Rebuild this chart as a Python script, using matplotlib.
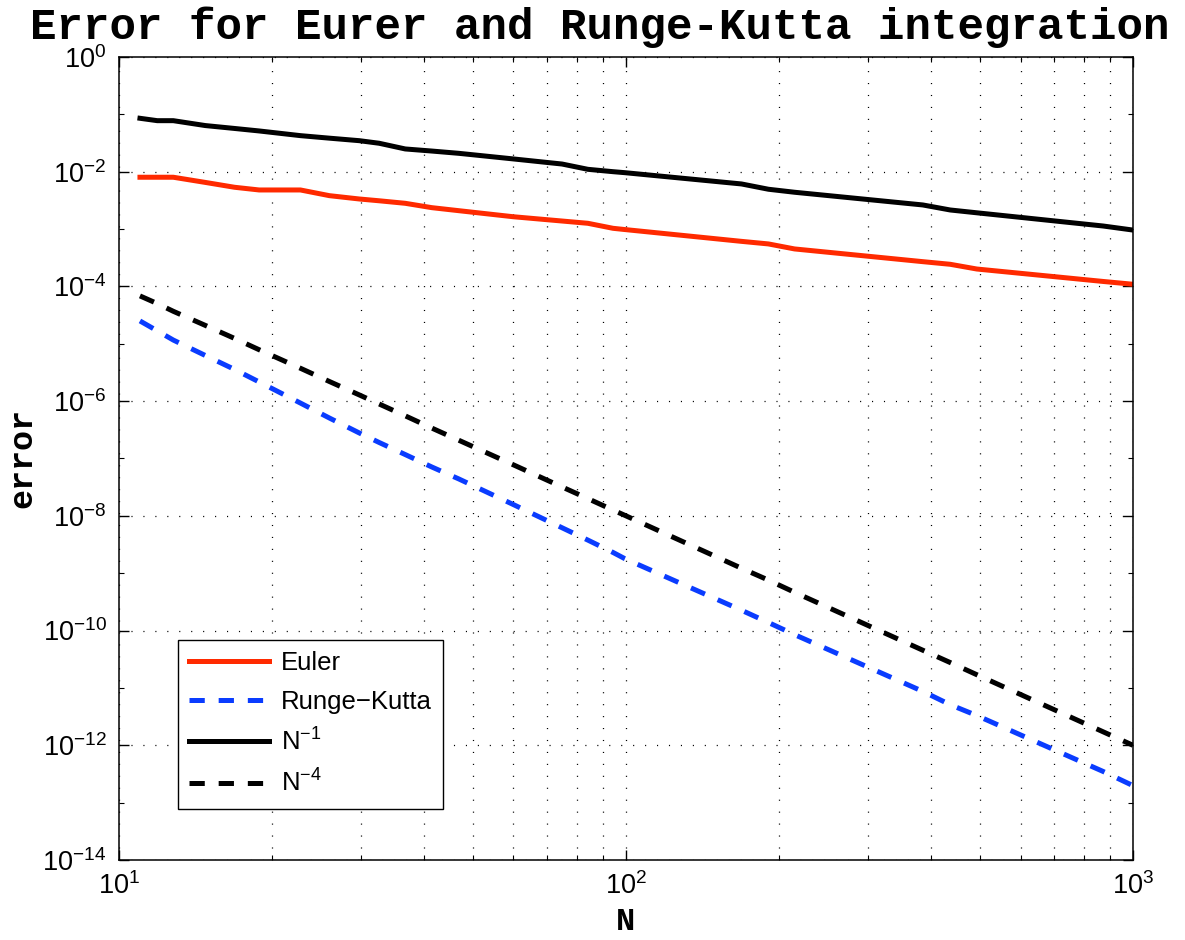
import numpy as np
import matplotlib
matplotlib.use('Agg')
import matplotlib.pyplot as plt
from matplotlib.ticker import LogLocator, FixedLocator, NullFormatter

# values
n_steps = [11.0, 11.9, 12.8, 14.8, 16.9, 18.9, 22.8, 26.0, 29.8, 32.6, 36.7,
           41.4, 46.8, 59.9, 74.8, 84.1, 94.3, 99.5, 169, 191, 215, 385,
           436, 492, 873, 1000]
err_euler = [8.0e-3, 8.0e-3, 8.0e-3, 6.5e-3, 5.35e-3, 4.8e-3, 4.8e-3, 3.82e-3,
             3.34e-3, 3.11e-3, 2.81e-3, 2.36e-3, 2.09e-3, 1.64e-3, 1.38e-3,
             1.26e-3, 1.03e-3, 9.8e-4, 6.1e-4, 5.5e-4, 4.5e-4, 2.7e-4,
             2.43e-4, 2.01e-4, 1.22e-4, 1.09e-4]
err_rk = [2.5e-5, 1.68e-5, 1.16e-5, 6.25e-6, 3.57e-6, 2.16e-6, 9.25e-7,
          5.08e-7, 2.78e-7, 1.9e-7, 1.17e-7, 7.11e-8, 4.4e-8, 1.58e-8,
          6.2e-9, 3.78e-9, 2.3e-9, 1.79e-9, 2.26e-10, 1.38e-10, 8.5e-11,
          8.7e-12, 5.1e-12, 3.3e-12, 3.5e-13, 1.98e-13]
ref_n1 = [8.53e-2, 7.75e-2, 7.75e-2, 6.37e-2, 5.67e-2, 5.13e-2, 4.25e-2,
          3.84e-2, 3.47e-2, 3.13e-2, 2.49e-2, 2.29e-2, 2.09e-2, 1.67e-2,
          1.36e-2, 1.10e-2, 1.00e-2, 9.61e-3, 6.11e-3, 4.94e-3, 4.38e-3,
          2.63e-3, 2.15e-3, 1.92e-3, 1.13e-3, 9.6e-4]
ref_n4 = [6.83e-5, 5.02e-5, 3.68e-5, 2.09e-5, 1.24e-5, 7.87e-6, 3.74e-6,
          2.20e-6, 1.28e-6, 8.91e-7, 5.54e-7, 3.39e-7, 2.08e-7, 7.79e-8,
          3.19e-8, 2.00e-8, 1.26e-8, 1.02e-8, 1.22e-9, 7.57e-10, 4.65e-10,
          4.54e-11, 2.77e-11, 1.70e-11, 1.72e-12, 1.0e-12]
labels = ['Euler', 'Runge\u2212Kutta', 'N$^{\u22121}$', 'N$^{\u22124}$']

plt.rcParams['font.family'] = ['Liberation Sans', 'DejaVu Sans']
plt.rcParams['mathtext.default'] = 'regular'
plt.rcParams['lines.scale_dashes'] = False

fig = plt.figure(figsize=(11.85, 9.4), dpi=100)
ax = fig.add_axes([0.1004, 0.0851, 0.8557, 0.8543])

dash = (0, (11, 10))
ax.loglog(n_steps, err_euler, color='#ff2a00', lw=3.6, label=labels[0])
ax.loglog(n_steps, err_rk, color='#0a3cff', lw=3.6, ls=dash,
          dash_capstyle='butt', label=labels[1])
ax.loglog(n_steps, ref_n1, color='black', lw=3.6, label=labels[2])
ax.loglog(n_steps, ref_n4, color='black', lw=3.6, ls=dash,
          dash_capstyle='butt', label=labels[3])

ax.set_xlim(10, 1000)
ax.set_ylim(1e-14, 1)
ax.yaxis.set_major_locator(FixedLocator([10.0 ** k for k in range(-14, 1, 2)]))
ax.yaxis.set_minor_locator(FixedLocator([10.0 ** k for k in range(-13, 0, 2)]))
ax.yaxis.set_minor_formatter(NullFormatter())
ax.xaxis.set_minor_locator(LogLocator(base=10, subs=np.arange(2, 10)))
ax.xaxis.set_minor_formatter(NullFormatter())

dots = (0, (0.8, 7.8))
ax.grid(True, which='major', axis='both', color='black', lw=0.9, ls=dots)
ax.grid(True, which='minor', axis='x', color='black', lw=0.9, ls=dots)

ax.tick_params(which='both', direction='in', top=True, right=True,
               labelsize=19.5, pad=9)
ax.tick_params(which='major', length=7, width=1)
ax.tick_params(which='minor', length=3.5, width=0.8)
for s in ax.spines.values():
    s.set_linewidth(1.1)

mono = ['Liberation Mono', 'DejaVu Sans Mono']
fig.text(600 / 1185, 1 - 39 / 940,
         'Error for Eurer and Runge-Kutta integration',
         family=mono, weight='bold', fontsize=31.8, ha='center', va='baseline')
ax.set_xlabel('N', family=mono, weight='bold', fontsize=23)
ax.set_ylabel('error', family=mono, weight='bold', fontsize=24)
ax.xaxis.set_label_coords(0.5, -0.058)
ax.yaxis.set_label_coords(-0.079, 0.5)

leg = ax.legend(loc='lower left', bbox_to_anchor=(0.058, 0.064),
                borderaxespad=0, fontsize=18.5, handlelength=3.1,
                handletextpad=0.45, labelspacing=0.56, borderpad=0.45,
                fancybox=False, framealpha=1, edgecolor='black')
leg.get_frame().set_linewidth(1.0)

fig.savefig('out.png', dpi=100)
